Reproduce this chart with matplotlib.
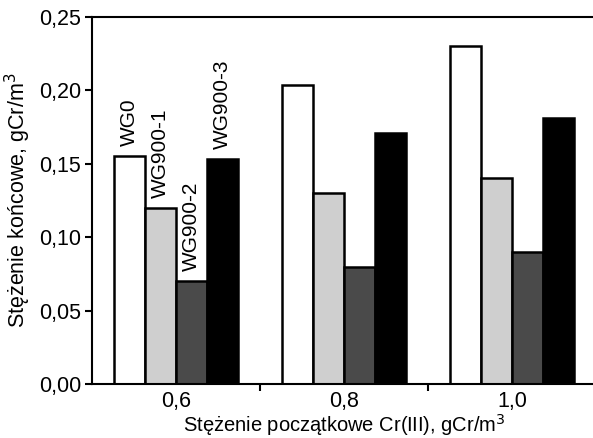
import numpy as np
import matplotlib.pyplot as plt

plt.rcParams['font.family'] = ['Liberation Sans', 'DejaVu Sans']

groups = ["0,6", "0,8", "1,0"]
series = ["WG0", "WG900-1", "WG900-2", "WG900-3"]
wg0 = [0.155, 0.204, 0.230]
wg900_1 = [0.120, 0.130, 0.140]
wg900_2 = [0.070, 0.080, 0.090]
wg900_3 = [0.153, 0.171, 0.181]
y_ticks = [0.00, 0.05, 0.10, 0.15, 0.20, 0.25]

values = [wg0, wg900_1, wg900_2, wg900_3]
faces = ["white", "#cfcfcf", "#4a4a4a", "black"]

fig = plt.figure(figsize=(5.93, 4.38), dpi=100)
ax = fig.add_axes([92 / 593, 1 - 384 / 438, 504 / 593, 367 / 438])

x = np.arange(len(groups))
w = 0.185
for i, (vals, fc) in enumerate(zip(values, faces)):
    pos = x + (i - 1.5) * w
    ax.bar(pos, vals, width=w, color=fc, edgecolor="black", linewidth=1.8, zorder=2)
    # labels only above the first group
    ax.text(pos[0], vals[0] + 0.007, series[i], rotation=90, ha="center",
            va="bottom", fontsize=15)

ax.set_xlim(-0.5, 2.5)
ax.set_ylim(0, 0.25)
ax.set_yticks(y_ticks)
ax.set_yticklabels([f"{v:.2f}".replace(".", ",") for v in y_ticks], fontsize=15.5)
ax.set_xticks(x)
ax.set_xticklabels(groups, fontsize=15.5)
ax.set_xticks([0.5, 1.5], minor=True)
ax.tick_params(axis="x", which="major", length=0, pad=5)
ax.tick_params(axis="x", which="minor", length=5, width=1.5, direction="out")
ax.tick_params(axis="y", length=5, width=1.5, direction="out", pad=3)

for s in ["left", "top", "bottom"]:
    ax.spines[s].set_linewidth(1.5)
ax.spines["right"].set_visible(False)

ax.set_ylabel("Stężenie końcowe, gCr/m$^3$", fontsize=15.5, labelpad=4)
ax.set_xlabel("Stężenie początkowe Cr(III), gCr/m$^3$", fontsize=14.5, labelpad=0)

fig.savefig("out.png", dpi=100)
